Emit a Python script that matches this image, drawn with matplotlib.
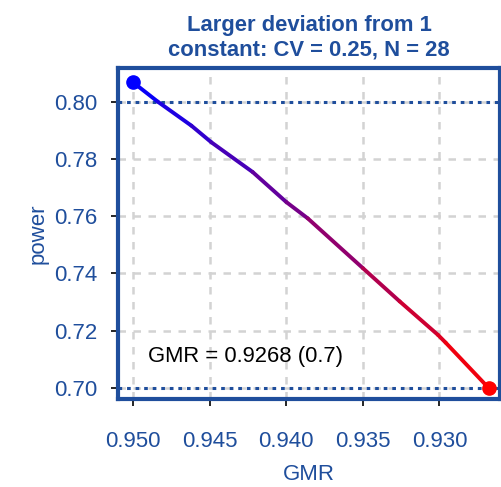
import numpy as np
import matplotlib
matplotlib.use("Agg")
import matplotlib.pyplot as plt
from matplotlib.collections import LineCollection
from matplotlib.colors import LinearSegmentedColormap

plt.rcParams['font.family'] = ['Liberation Sans', 'DejaVu Sans']

gmr = [0.9500, 0.9484, 0.9462, 0.9449, 0.9422, 0.9400, 0.9386,
       0.9350, 0.9326, 0.9301, 0.9296, 0.9268]
power = [0.8067, 0.8000, 0.7916, 0.7858, 0.7754, 0.7649, 0.7592,
         0.7418, 0.7302, 0.7185, 0.7158, 0.7000]
xticks = [0.950, 0.945, 0.940, 0.935, 0.930]
yticks = [0.70, 0.72, 0.74, 0.76, 0.78, 0.80]
target_power = 0.80
min_power = 0.70
title = "Larger deviation from 1\nconstant: CV = 0.25, N = 28"
note = "GMR = 0.9268 (0.7)"

blue = "#1F4E9C"
fig = plt.figure(figsize=(5.02, 4.87), dpi=100)
# axes box: left 118, right 500, top 68, bottom 399 (pixels)
ax = fig.add_axes([118/502, 1-399/487, (500-118)/502, (399-68)/487])

ax.set_xlim(0.95099, 0.92605)
ax.set_ylim(0.6961, 0.81174)

ax.grid(True, color="#d3d3d3", linestyle=(0, (3, 3)), linewidth=1.8)
ax.set_axisbelow(True)

ax.axhline(target_power, color=blue, linestyle=(0, (1.2, 1.6)), linewidth=2.2, zorder=2)
ax.axhline(min_power, color=blue, linestyle=(0, (1.2, 1.6)), linewidth=2.2, zorder=2)

x = np.array(gmr)
y = np.array(power)
pts = np.array([x, y]).T.reshape(-1, 1, 2)
segs = np.concatenate([pts[:-1], pts[1:]], axis=1)
cmap = LinearSegmentedColormap.from_list("br", ["#0000FF", "#FF0000"])
t = (x[:-1] + x[1:]) / 2
t = (x[0] - t) / (x[0] - x[-1])
lc = LineCollection(segs, colors=cmap(t), linewidth=2.8, zorder=3, capstyle='round', joinstyle='round')
ax.add_collection(lc)
ax.plot([gmr[0]], [power[0]], 'o', color="#0000FF", markersize=9.5, zorder=4, clip_on=False)
ax.plot([gmr[-1]], [power[-1]], 'o', color="#FF0000", markersize=9.5, zorder=4, clip_on=False)

ax.text(0.94905, 0.7108, note, fontsize=15.8, color="black", va='center', ha='left')

ax.set_xticks(xticks)
ax.set_xticklabels([f"{v:.3f}" for v in xticks])
ax.set_yticks(yticks)
ax.set_yticklabels([f"{v:.2f}" for v in yticks])
ax.tick_params(axis='both', direction='out', length=5, width=1.2, color='black',
               labelcolor=blue, labelsize=16)
ax.tick_params(axis='x', pad=18)
ax.tick_params(axis='y', pad=10)

for s in ax.spines.values():
    s.set_color(blue)
    s.set_linewidth(3)

ax.set_xlabel("GMR", color=blue, fontsize=16, labelpad=9)
ax.set_ylabel("power", color=blue, fontsize=16, labelpad=4)
ax.set_title(title, color=blue, fontsize=15.8, fontweight='bold', pad=9, linespacing=1.22)

fig.savefig("out.png", dpi=100)
